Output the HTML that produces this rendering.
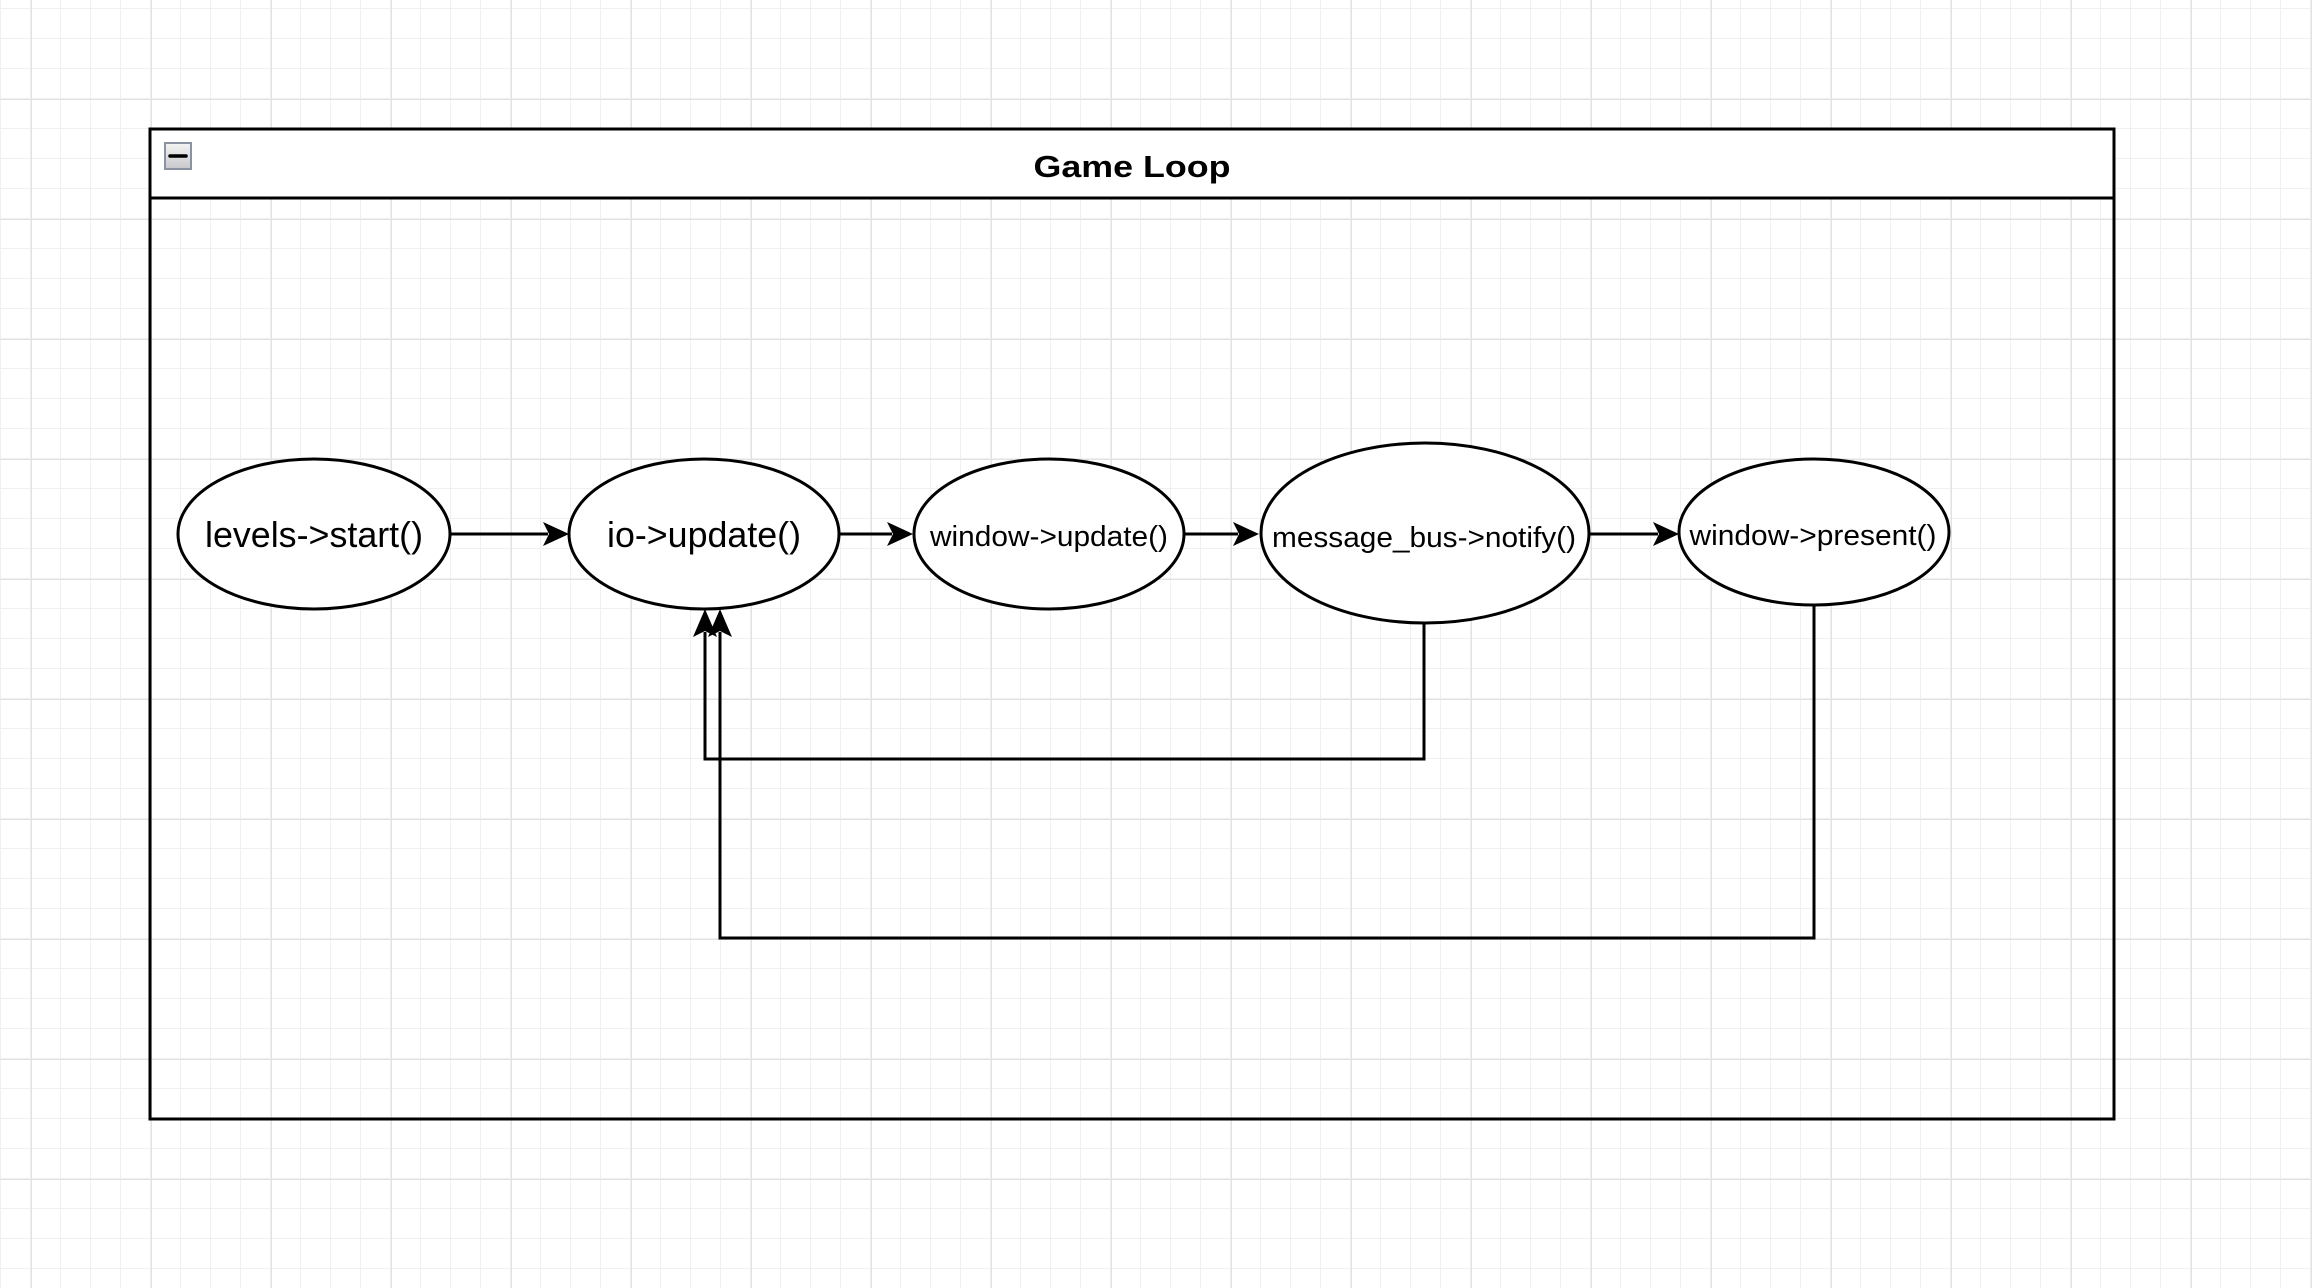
<!DOCTYPE html>
<html><head><meta charset="utf-8"><style>
html,body{margin:0;padding:0;background:#fff;}
svg{display:block;}
text{font-family:"Liberation Sans",Arial,sans-serif;fill:#000;}
</style></head><body>
<svg width="2312" height="1288" viewBox="0 0 2312 1288" xmlns="http://www.w3.org/2000/svg">
<defs>
<pattern id="minor" x="1" y="9" width="30" height="30" patternUnits="userSpaceOnUse">
<path d="M30 0V30M0 30H30" stroke="#f0f0f0" stroke-width="2" fill="none"/>
</pattern>
<pattern id="major" x="31" y="99" width="120" height="120" patternUnits="userSpaceOnUse">
<path d="M0 0V120M0 0H120" stroke="#e2e2e2" stroke-width="2" fill="none"/>
</pattern>
<linearGradient id="ig" x1="0" y1="0" x2="0" y2="1"><stop offset="0" stop-color="#f4f4f4"/><stop offset="1" stop-color="#c8c8cc"/></linearGradient>
</defs>
<rect width="2312" height="1288" fill="#fff"/>
<rect width="2312" height="1288" fill="url(#minor)"/>
<rect width="2312" height="1288" fill="url(#major)"/>

<!-- container -->
<rect x="150" y="129" width="1964" height="69" fill="#fff" stroke="#000" stroke-width="3"/>
<rect x="150" y="198" width="1964" height="921" fill="none" stroke="#000" stroke-width="3"/>
<rect x="165" y="143" width="26" height="26" fill="url(#ig)" stroke="#8b93a3" stroke-width="2"/>
<line x1="170" y1="156" x2="186" y2="156" stroke="#000" stroke-width="3.5" stroke-linecap="round"/>
<text x="1132" y="177" font-size="31" font-weight="bold" text-anchor="middle" textLength="197" lengthAdjust="spacingAndGlyphs">Game Loop</text>

<!-- loopback connectors -->
<g fill="none" stroke="#000" stroke-width="3">
<polyline points="1424,623 1424,759 705,759 705,632"/>
<polyline points="1814,605 1814,938 720,938 720,632"/>
<line x1="450" y1="534" x2="548" y2="534"/>
<line x1="840" y1="534" x2="892" y2="534"/>
<line x1="1184" y1="534" x2="1238" y2="534"/>
<line x1="1590" y1="534" x2="1658" y2="534"/>
</g>
<g fill="#000">
<path d="M705 609 L717 637 L705 631 L693 637Z"/>
<path d="M720 609 L732 637 L720 631 L708 637Z"/>
<path d="M569 534 L543 522 L549 534 L543 546Z"/>
<path d="M913 534 L887 522 L893 534 L887 546Z"/>
<path d="M1259 534 L1233 522 L1239 534 L1233 546Z"/>
<path d="M1679 534 L1653 522 L1659 534 L1653 546Z"/>
</g>

<!-- ellipses -->
<g fill="#fff" stroke="#000" stroke-width="3">
<ellipse cx="314" cy="534" rx="136" ry="75"/>
<ellipse cx="704" cy="534" rx="135" ry="75"/>
<ellipse cx="1049" cy="534" rx="135" ry="75"/>
<ellipse cx="1425" cy="533" rx="164" ry="90"/>
<ellipse cx="1814" cy="532" rx="135" ry="73"/>
</g>
<text x="314" y="547" font-size="36" text-anchor="middle" textLength="218" lengthAdjust="spacingAndGlyphs">levels-&gt;start()</text>
<text x="704" y="547" font-size="36" text-anchor="middle" textLength="194" lengthAdjust="spacingAndGlyphs">io-&gt;update()</text>
<text x="1049" y="546" font-size="29" text-anchor="middle" textLength="238" lengthAdjust="spacingAndGlyphs">window-&gt;update()</text>
<text x="1424" y="547" font-size="29" text-anchor="middle" textLength="304" lengthAdjust="spacingAndGlyphs">message_bus-&gt;notify()</text>
<text x="1813" y="545" font-size="29" text-anchor="middle" textLength="247" lengthAdjust="spacingAndGlyphs">window-&gt;present()</text>
</svg>
</body></html>
